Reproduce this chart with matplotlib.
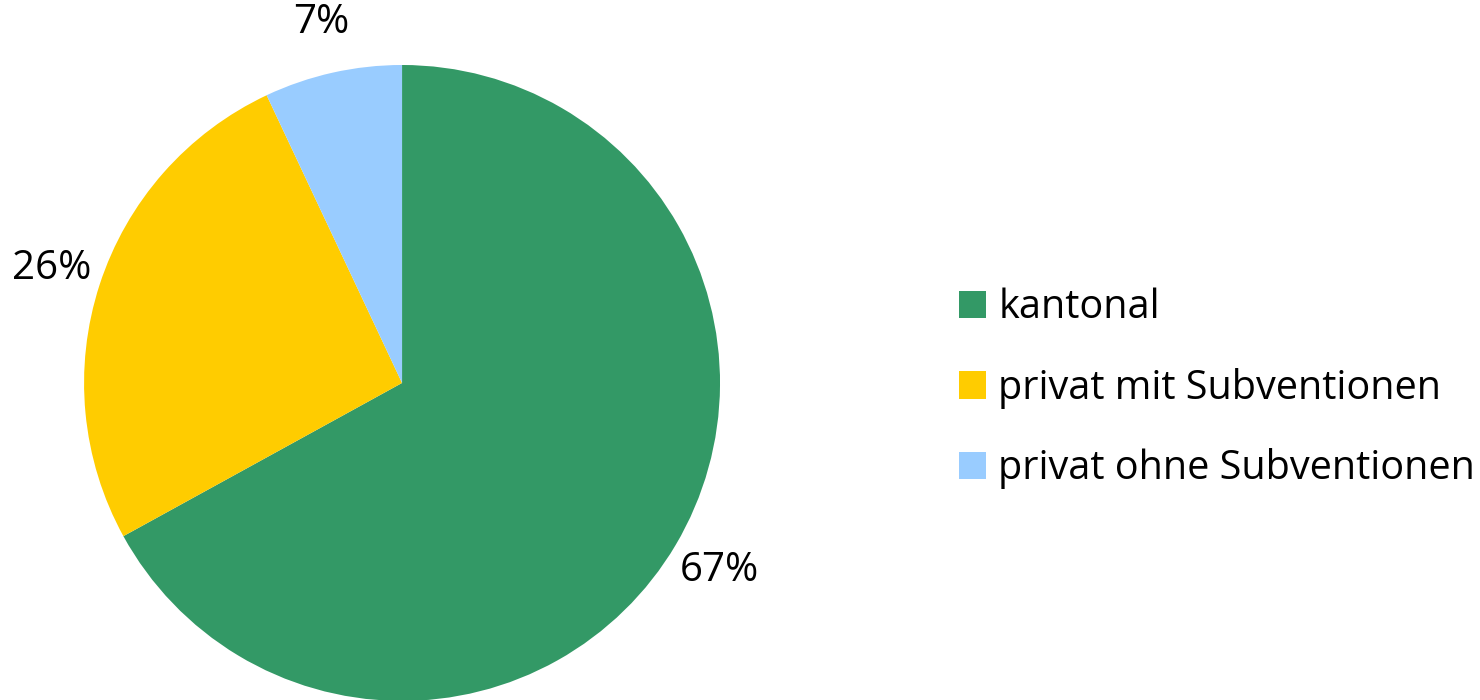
import matplotlib
matplotlib.use("Agg")
import matplotlib.pyplot as plt

# data
categories = ["kantonal", "privat mit Subventionen", "privat ohne Subventionen"]
shares = [67, 26, 7]
colors = ["#339966", "#FFCC00", "#99CCFF"]

plt.rcParams['font.family'] = ['Open Sans', 'DejaVu Sans']

fig = plt.figure(figsize=(14.8, 7), dpi=100)
# pie centre ~ (402, 383) px, radius ~318 px
ax = fig.add_axes([0.0568, -0.0014, 0.4297, 0.9086])

wedges, texts, autotexts = ax.pie(
    shares, colors=colors, startangle=90, counterclock=False,
    autopct=lambda p: f"{p:.0f}%", pctdistance=1.16, radius=1,
    textprops=dict(fontsize=29, color="black"),
    wedgeprops=dict(linewidth=0))
ax.set_xlim(-1, 1)
ax.set_ylim(-1, 1)
ax.set_aspect("equal")
ax.axis("off")

fig.legend(wedges, categories, loc="center left", bbox_to_anchor=(0.648, 0.445),
           frameon=False, fontsize=28.5, handlelength=0.69, handleheight=0.69,
           handletextpad=0.3, labelspacing=1.0, borderpad=0, borderaxespad=0)

fig.savefig("out.png", dpi=100)
